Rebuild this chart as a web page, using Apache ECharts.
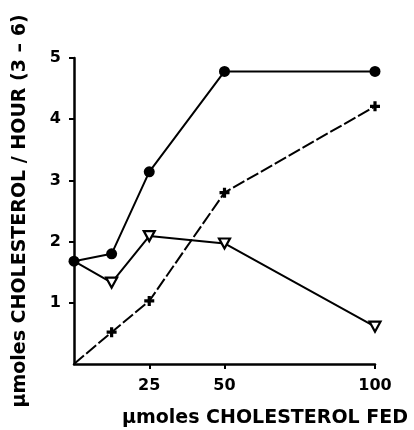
<!DOCTYPE html>
<html>
<head>
<meta charset="utf-8">
<script src="https://cdn.jsdelivr.net/npm/echarts@6/dist/echarts.min.js"></script>
<style>
  html, body { margin: 0; padding: 0; background: #fff; }
  #chart { width: 414px; height: 430px; }
</style>
</head>
<body>
<div id="chart"></div>
<script>
// Cholesterol fed (µmoles) vs. cholesterol output per hour (3–6 h)
const cholesterolFed = [0, 12.5, 25, 50, 100];
const seriesCircle   = [1.68, 1.80, 3.14, 4.78, 4.78];
const seriesTriangle = [1.68, 1.33, 2.09, 1.97, 0.61];
const seriesCross    = [0, 0.52, 1.03, 2.80, 4.21];
const xTickValues = [25, 50, 100];
const yTickValues = [1, 2, 3, 4, 5];

const FONT = 'DejaVu Sans';
const INK = '#000';

const pairs = (ys) => cholesterolFed.map((x, i) => [x, ys[i]]);

const triangleDown = 'path://M0,0 L10,0 L5,9 Z';
const plusSign = 'path://M3.4,0 H6.6 V3.4 H10 V6.6 H6.6 V10 H3.4 V6.6 H0 V3.4 H3.4 Z';

const chart = echarts.init(document.getElementById('chart'), null, { renderer: 'canvas' });

chart.setOption({
  backgroundColor: '#fff',
  animation: false,
  grid: { left: 74, right: 39, top: 58, bottom: 66, containLabel: false },
  xAxis: {
    type: 'value',
    min: 0,
    max: 100,
    name: 'μmoles CHOLESTEROL FED',
    nameLocation: 'end',
    nameGap: 0,
    nameTextStyle: {
      fontFamily: FONT, fontWeight: 'bold', fontSize: 19, color: INK,
      align: 'right', verticalAlign: 'top', padding: [45, -33, 0, 0]
    },
    axisLine: { show: true, lineStyle: { color: INK, width: 2.5 } },
    axisTick: { show: true, length: 5, inside: false, customValues: xTickValues, lineStyle: { color: INK, width: 2 } },
    axisLabel: { customValues: xTickValues, margin: 14, fontFamily: FONT, fontWeight: 'bold', fontSize: 16, color: INK },
    splitLine: { show: false }
  },
  yAxis: {
    type: 'value',
    min: 0,
    max: 5,
    name: 'μmoles CHOLESTEROL / HOUR (3 – 6)',
    nameLocation: 'middle',
    nameRotate: 90,
    nameGap: 44,
    nameTextStyle: { fontFamily: FONT, fontWeight: 'bold', fontSize: 19, color: INK },
    axisLine: { show: true, lineStyle: { color: INK, width: 2.5 } },
    axisTick: { show: true, length: 5, inside: false, customValues: yTickValues, lineStyle: { color: INK, width: 2 } },
    axisLabel: { customValues: yTickValues, margin: 13, fontFamily: FONT, fontWeight: 'bold', fontSize: 16, color: INK },
    splitLine: { show: false }
  },
  series: [
    {
      name: 'cross',
      type: 'line',
      data: pairs(seriesCross).map((p, i) => i === 0 ? { value: p, symbol: 'none' } : p),
      symbol: plusSign,
      symbolSize: 10,
      lineStyle: { color: INK, width: 2, type: [13, 3] },
      itemStyle: { color: INK, borderWidth: 0 },
      z: 2
    },
    {
      name: 'triangle',
      type: 'line',
      data: pairs(seriesTriangle).map((p, i) => i === 0 ? { value: p, symbol: 'none' } : p),
      symbol: triangleDown,
      symbolSize: [11, 10],
      lineStyle: { color: INK, width: 2 },
      itemStyle: { color: '#fff', borderColor: INK, borderWidth: 2.2 },
      z: 3
    },
    {
      name: 'circle',
      type: 'line',
      data: pairs(seriesCircle),
      symbol: 'circle',
      symbolSize: 11,
      lineStyle: { color: INK, width: 2 },
      itemStyle: { color: INK, borderWidth: 0 },
      z: 4
    }
  ]
});
</script>
</body>
</html>
